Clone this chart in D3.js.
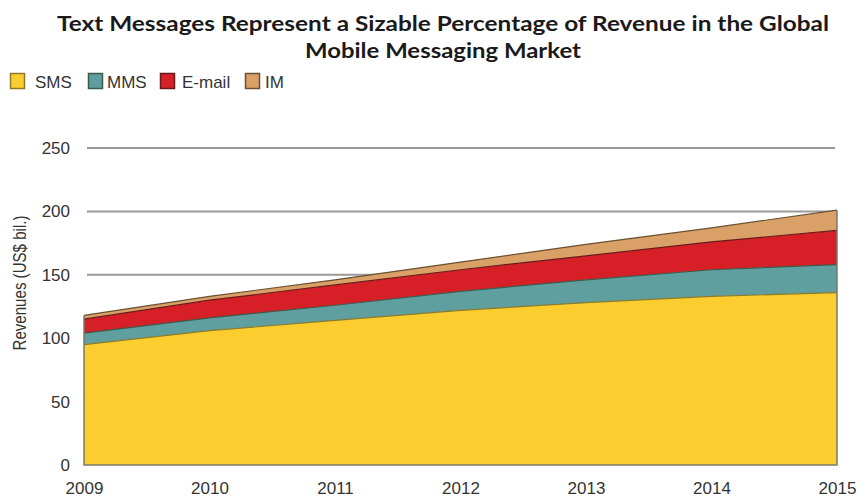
<!DOCTYPE html>
<html>
<head>
<meta charset="utf-8">
<script src="https://cdn.jsdelivr.net/npm/d3@7"></script>
<style>
  html, body { margin: 0; padding: 0; background: #fff; }
  svg { display: block; }
</style>
</head>
<body>
<svg id="chart" width="859" height="497"></svg>
<script>
// Global mobile messaging revenue, US$ billions
const years = [2009, 2010, 2011, 2012, 2013, 2014, 2015];
const sms   = [95, 106, 114, 122, 128, 133, 136];
const mms   = [9, 10, 12, 15, 18, 21, 22];
const email = [11, 14, 16, 17, 19, 22, 27];
const im    = [3, 3, 4, 6, 9, 11, 16];
const seriesNames = ["SMS", "MMS", "E-mail", "IM"];
const yTicks = [0, 50, 100, 150, 200, 250];

const fills   = { "SMS": "#fccd2e", "MMS": "#5f9fa0", "E-mail": "#d71f27", "IM": "#d9a168" };
const strokes = { "SMS": "#8a7a2a", "MMS": "#3c5a4a", "E-mail": "#6a1a1a", "IM": "#6a5030" };

const rows = years.map((y, i) => ({ year: y, "SMS": sms[i], "MMS": mms[i], "E-mail": email[i], "IM": im[i] }));

const svg = d3.select("#chart");
const x = d3.scaleLinear().domain([2009, 2015]).range([84, 837]);
const y = d3.scaleLinear().domain([0, 250]).range([465, 148]);
const labelFont = "'Liberation Sans', Arial, sans-serif";

// Title
const title = svg.append("g")
  .attr("font-family", "Lato, 'Open Sans', sans-serif")
  .attr("font-weight", "bold")
  .attr("font-size", 20)
  .attr("fill", "#1a1a1a")
  .attr("text-anchor", "middle");
title.append("text").attr("x", 443).attr("y", 31)
  .attr("textLength", 772).attr("lengthAdjust", "spacingAndGlyphs")
  .text("Text Messages Represent a Sizable Percentage of Revenue in the Global");
title.append("text").attr("x", 443).attr("y", 58)
  .attr("textLength", 276).attr("lengthAdjust", "spacingAndGlyphs")
  .text("Mobile Messaging Market");

// Legend
const swatchX = [10, 88, 160, 245];
const textX = [35, 107, 182, 265];
const legend = svg.append("g").attr("font-family", labelFont)
  .attr("font-size", 17).attr("fill", "#333");
seriesNames.forEach((name, i) => {
  legend.append("rect").attr("x", swatchX[i] + 0.5).attr("y", 73.5).attr("width", 14).attr("height", 15)
    .attr("fill", fills[name]).attr("stroke", strokes[name]).attr("stroke-width", 1.5);
  legend.append("text").attr("x", textX[i]).attr("y", 88).text(name);
});

// Gridlines (behind the areas)
svg.append("g").selectAll("line").data(yTicks.filter(d => d > 0)).join("line")
  .attr("x1", 87).attr("x2", 835)
  .attr("y1", d => y(d)).attr("y2", d => y(d))
  .attr("stroke", "#9a9a9a").attr("stroke-width", 2);

// Stacked areas
const stack = d3.stack().keys(seriesNames);
const layers = stack(rows);
const area = d3.area()
  .x(d => x(d.data.year))
  .y0(d => y(d[0]))
  .y1(d => y(d[1]));
const topLine = d3.line()
  .x(d => x(d.data.year))
  .y(d => y(d[1]));

svg.append("g").selectAll("path").data(layers).join("path")
  .attr("d", area)
  .attr("fill", d => fills[d.key]);
svg.append("g").selectAll("path").data(layers).join("path")
  .attr("d", topLine)
  .attr("fill", "none")
  .attr("stroke", d => strokes[d.key])
  .attr("stroke-width", 1.2);

// Outline of the stack edges and baseline
const total = layers[layers.length - 1];
svg.append("path")
  .attr("d", d3.line()([
    [x(2009), y(total[0][1])], [x(2009), y(0)], [x(2015), y(0)], [x(2015), y(total[total.length - 1][1])]
  ]))
  .attr("fill", "none").attr("stroke", "#7a7a6a").attr("stroke-width", 1.5);

// Y axis labels
const yAxis = d3.axisLeft(y).tickValues(yTicks).tickSize(0).tickPadding(0);
svg.append("g").attr("transform", "translate(70,0)").call(yAxis)
  .call(g => g.select(".domain").remove())
  .call(g => g.selectAll("text")
    .attr("font-family", labelFont)
    .attr("font-size", 17).attr("fill", "#333"));

// X axis labels
const xAxis = d3.axisBottom(x).tickValues(years).tickFormat(d3.format("d")).tickSize(0).tickPadding(0);
svg.append("g").attr("transform", "translate(0,482)").call(xAxis)
  .call(g => g.select(".domain").remove())
  .call(g => g.selectAll("text")
    .attr("font-family", labelFont)
    .attr("font-size", 17).attr("fill", "#333"));

// Y axis title
svg.append("text")
  .attr("transform", "translate(26,283) rotate(-90)")
  .attr("text-anchor", "middle")
  .attr("font-family", labelFont)
  .attr("font-size", 18).attr("fill", "#333")
  .attr("textLength", 135).attr("lengthAdjust", "spacingAndGlyphs")
  .text("Revenues (US$ bil.)");
</script>
</body>
</html>
